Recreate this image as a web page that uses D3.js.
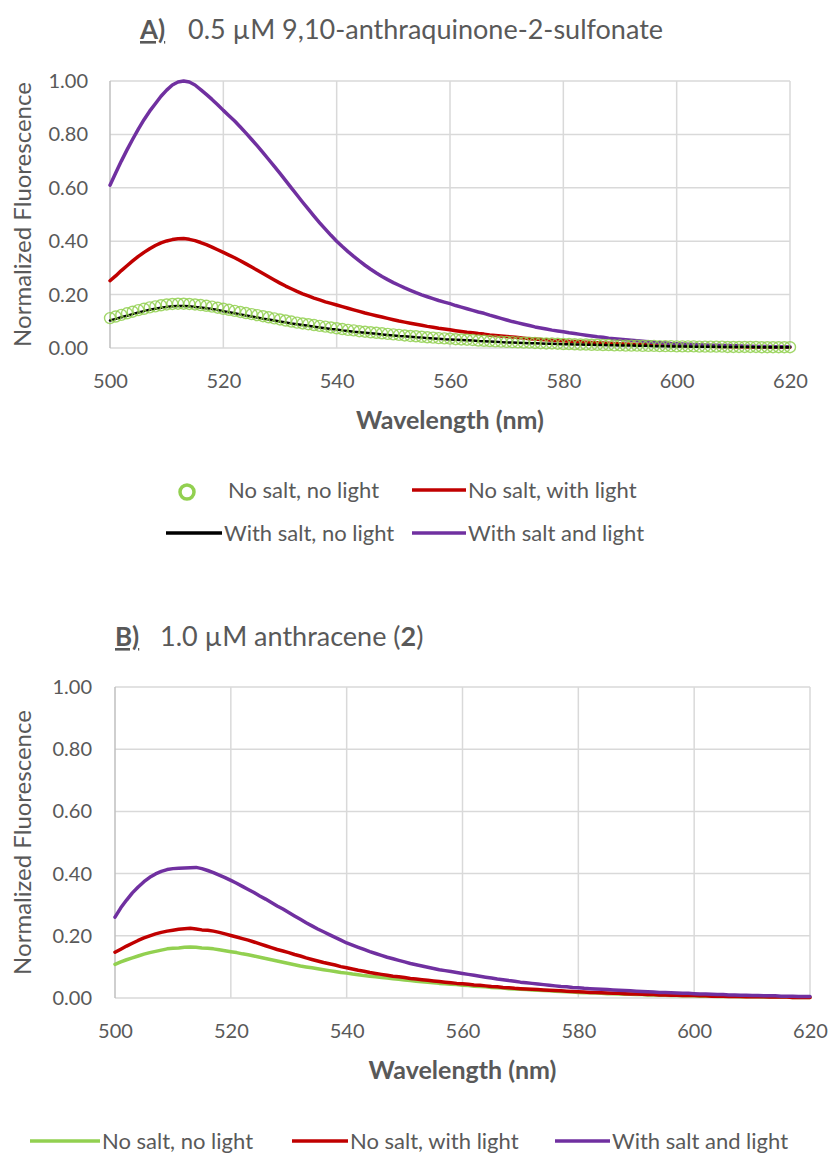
<!DOCTYPE html>
<html>
<head>
<meta charset="utf-8">
<script src="https://cdn.jsdelivr.net/npm/d3@7"></script>
<style>
  html, body { margin: 0; padding: 0; background: #fff; }
  svg { display: block; }
  text { font-family: Lato, "Open Sans", "Noto Sans", sans-serif; fill: #595959; }
</style>
</head>
<body>
<svg id="chart" width="831" height="1154"></svg>
<script>
// Emission wavelengths (nm), one reading per nanometre
const wavelengths = d3.range(500, 621);
const xTicks = [500, 520, 540, 560, 580, 600, 620];
const yTicks = [0, 0.2, 0.4, 0.6, 0.8, 1.0];

// Panel A: 0.5 µM 9,10-anthraquinone-2-sulfonate
const aNoSaltNoLight = [
  0.112,0.118,0.124,0.130,0.136,0.142,0.147,0.152,0.156,0.160,
  0.163,0.165,0.166,0.166,0.165,0.163,0.161,0.158,0.155,0.151,
  0.147,0.143,0.139,0.135,0.131,0.127,0.123,0.119,0.115,0.111,
  0.107,0.103,0.099,0.095,0.092,0.089,0.086,0.083,0.080,0.077,
  0.074,0.071,0.068,0.066,0.063,0.061,0.059,0.057,0.055,0.053,
  0.051,0.049,0.047,0.045,0.044,0.042,0.040,0.039,0.037,0.036,
  0.035,0.033,0.032,0.031,0.030,0.028,0.027,0.026,0.025,0.024,
  0.023,0.022,0.021,0.020,0.020,0.019,0.018,0.017,0.017,0.016,
  0.015,0.015,0.014,0.013,0.013,0.012,0.012,0.011,0.011,0.010,
  0.010,0.009,0.009,0.009,0.008,0.008,0.008,0.007,0.007,0.007,
  0.006,0.006,0.006,0.006,0.005,0.005,0.005,0.005,0.005,0.004,
  0.004,0.004,0.004,0.004,0.004,0.003,0.003,0.003,0.003,0.003,
  0.003
];
const aNoSaltWithLight = [
  0.252,0.270,0.290,0.308,0.326,0.343,0.358,0.372,0.384,0.394,
  0.401,0.406,0.409,0.410,0.407,0.402,0.395,0.387,0.378,0.368,
  0.358,0.348,0.338,0.327,0.315,0.303,0.291,0.279,0.267,0.255,
  0.243,0.232,0.222,0.212,0.203,0.195,0.187,0.180,0.173,0.167,
  0.161,0.155,0.149,0.143,0.137,0.131,0.126,0.121,0.116,0.111,
  0.106,0.101,0.097,0.093,0.089,0.085,0.081,0.078,0.074,0.071,
  0.068,0.065,0.062,0.059,0.057,0.054,0.052,0.049,0.047,0.045,
  0.043,0.041,0.039,0.037,0.035,0.034,0.032,0.031,0.029,0.028,
  0.027,0.025,0.024,0.023,0.022,0.021,0.020,0.019,0.018,0.017,
  0.016,0.015,0.014,0.013,0.013,0.012,0.011,0.011,0.010,0.010,
  0.009,0.009,0.008,0.008,0.007,0.007,0.007,0.006,0.006,0.006,
  0.005,0.005,0.005,0.004,0.004,0.004,0.004,0.003,0.003,0.003,
  0.003
];
const aWithSaltNoLight = [
  0.103,0.109,0.115,0.121,0.127,0.133,0.138,0.143,0.147,0.151,
  0.154,0.156,0.157,0.157,0.156,0.154,0.152,0.149,0.146,0.142,
  0.138,0.134,0.130,0.126,0.122,0.118,0.114,0.110,0.107,0.103,
  0.099,0.096,0.092,0.089,0.086,0.083,0.080,0.077,0.074,0.071,
  0.069,0.066,0.064,0.061,0.059,0.057,0.055,0.053,0.051,0.049,
  0.047,0.045,0.044,0.042,0.040,0.039,0.037,0.036,0.035,0.033,
  0.032,0.031,0.030,0.029,0.028,0.026,0.025,0.024,0.023,0.022,
  0.021,0.021,0.020,0.019,0.018,0.018,0.017,0.016,0.016,0.015,
  0.014,0.014,0.013,0.013,0.012,0.012,0.011,0.011,0.010,0.010,
  0.009,0.009,0.009,0.008,0.008,0.008,0.007,0.007,0.007,0.006,
  0.006,0.006,0.006,0.005,0.005,0.005,0.005,0.005,0.004,0.004,
  0.004,0.004,0.004,0.004,0.003,0.003,0.003,0.003,0.003,0.003,
  0.003
];
const aWithSaltAndLight = [
  0.610,0.655,0.700,0.742,0.782,0.820,0.855,0.887,0.915,0.943,
  0.966,0.985,0.996,1.000,0.996,0.985,0.968,0.950,0.931,0.911,
  0.890,0.870,0.850,0.828,0.805,0.781,0.757,0.732,0.706,0.680,
  0.654,0.627,0.600,0.573,0.546,0.520,0.494,0.469,0.445,0.422,
  0.400,0.380,0.361,0.343,0.326,0.310,0.295,0.281,0.268,0.256,
  0.245,0.235,0.225,0.216,0.207,0.199,0.192,0.185,0.178,0.172,
  0.166,0.159,0.153,0.147,0.141,0.135,0.130,0.123,0.117,0.111,
  0.105,0.099,0.094,0.089,0.084,0.079,0.075,0.071,0.067,0.064,
  0.061,0.057,0.054,0.051,0.048,0.045,0.042,0.040,0.037,0.035,
  0.033,0.031,0.029,0.027,0.025,0.023,0.021,0.020,0.019,0.017,
  0.016,0.015,0.014,0.013,0.012,0.011,0.010,0.010,0.009,0.009,
  0.008,0.008,0.007,0.007,0.006,0.006,0.006,0.005,0.005,0.005,
  0.005
];

// Panel B: 1.0 µM anthracene (2)
const bNoSaltNoLight = [
  0.108,0.116,0.123,0.129,0.135,0.141,0.146,0.150,0.154,0.158,
  0.160,0.161,0.163,0.164,0.163,0.161,0.160,0.158,0.155,0.152,
  0.149,0.146,0.142,0.139,0.135,0.131,0.127,0.123,0.119,0.115,
  0.111,0.107,0.103,0.100,0.097,0.094,0.091,0.088,0.085,0.082,
  0.080,0.077,0.075,0.072,0.070,0.068,0.066,0.064,0.062,0.060,
  0.058,0.056,0.054,0.052,0.051,0.049,0.047,0.046,0.044,0.043,
  0.041,0.040,0.038,0.037,0.036,0.034,0.033,0.032,0.030,0.029,
  0.028,0.027,0.026,0.025,0.024,0.023,0.022,0.021,0.020,0.019,
  0.018,0.017,0.017,0.016,0.015,0.014,0.014,0.013,0.012,0.012,
  0.011,0.011,0.010,0.010,0.009,0.009,0.008,0.008,0.007,0.007,
  0.007,0.006,0.006,0.006,0.005,0.005,0.005,0.005,0.004,0.004,
  0.004,0.004,0.003,0.003,0.003,0.003,0.003,0.002,0.002,0.002,
  0.002
];
const bNoSaltWithLight = [
  0.147,0.157,0.167,0.176,0.185,0.193,0.200,0.206,0.211,0.215,
  0.218,0.221,0.223,0.224,0.222,0.219,0.218,0.215,0.211,0.206,
  0.201,0.196,0.191,0.186,0.180,0.174,0.168,0.162,0.156,0.151,
  0.146,0.140,0.135,0.129,0.124,0.119,0.114,0.110,0.106,0.101,
  0.097,0.093,0.089,0.086,0.082,0.079,0.076,0.073,0.070,0.068,
  0.066,0.063,0.061,0.059,0.057,0.055,0.053,0.051,0.049,0.047,
  0.046,0.044,0.042,0.041,0.039,0.037,0.036,0.034,0.033,0.031,
  0.030,0.029,0.028,0.027,0.026,0.025,0.024,0.023,0.022,0.021,
  0.020,0.019,0.018,0.018,0.017,0.016,0.015,0.015,0.014,0.013,
  0.013,0.012,0.011,0.011,0.010,0.010,0.009,0.009,0.008,0.008,
  0.008,0.007,0.007,0.006,0.006,0.006,0.005,0.005,0.005,0.004,
  0.004,0.004,0.004,0.003,0.003,0.003,0.003,0.002,0.002,0.002,
  0.002
];
const bWithSaltAndLight = [
  0.260,0.290,0.315,0.338,0.357,0.374,0.388,0.399,0.407,0.413,
  0.416,0.417,0.418,0.419,0.420,0.416,0.410,0.403,0.395,0.387,
  0.378,0.369,0.359,0.349,0.339,0.328,0.318,0.307,0.296,0.286,
  0.275,0.264,0.253,0.242,0.232,0.222,0.213,0.204,0.195,0.186,
  0.177,0.170,0.163,0.156,0.149,0.143,0.137,0.131,0.126,0.121,
  0.116,0.111,0.107,0.103,0.099,0.095,0.091,0.088,0.085,0.082,
  0.079,0.076,0.073,0.070,0.067,0.064,0.061,0.059,0.056,0.054,
  0.051,0.049,0.047,0.045,0.043,0.041,0.039,0.037,0.036,0.034,
  0.033,0.031,0.030,0.029,0.028,0.027,0.026,0.025,0.024,0.023,
  0.022,0.021,0.020,0.019,0.018,0.018,0.017,0.016,0.015,0.015,
  0.014,0.013,0.013,0.012,0.011,0.011,0.010,0.010,0.009,0.009,
  0.008,0.008,0.007,0.007,0.007,0.006,0.006,0.006,0.005,0.005,
  0.005
];

const GREEN = "#92d050", RED = "#c00000", BLACK = "#000000", PURPLE = "#7030a0";
const TEXT = "#595959", GRID = "#d9d9d9", AXIS = "#bfbfbf";

const svg = d3.select("#chart");

function drawPanel(cfg) {
  const x = d3.scaleLinear().domain([500, 620]).range([cfg.left, cfg.right]);
  const y = d3.scaleLinear().domain([0, 1]).range([cfg.bottom, cfg.top]);
  const g = svg.append("g");

  // Horizontal gridlines
  g.append("g").selectAll("line").data(yTicks).join("line")
    .attr("x1", cfg.left).attr("x2", cfg.right)
    .attr("y1", d => y(d)).attr("y2", d => y(d))
    .attr("stroke", GRID).attr("stroke-width", 1.5);
  // Vertical gridlines
  g.append("g").selectAll("line").data(xTicks.slice(1)).join("line")
    .attr("x1", d => x(d)).attr("x2", d => x(d))
    .attr("y1", cfg.top).attr("y2", cfg.bottom)
    .attr("stroke", GRID).attr("stroke-width", 1.5);
  // Value axis line
  g.append("line")
    .attr("x1", cfg.left).attr("x2", cfg.left)
    .attr("y1", cfg.top).attr("y2", cfg.bottom)
    .attr("stroke", AXIS).attr("stroke-width", 1.5);

  // Tick labels through d3 axes (domain and tick marks hidden)
  const yAxis = g.append("g").attr("transform", `translate(${cfg.left},0)`)
    .call(d3.axisLeft(y).tickValues(yTicks).tickFormat(d3.format(".2f")).tickSize(0).tickPadding(cfg.yPad));
  const xAxis = g.append("g").attr("transform", `translate(0,${cfg.bottom})`)
    .call(d3.axisBottom(x).tickValues(xTicks).tickFormat(d3.format("d")).tickSize(0).tickPadding(cfg.xPad));
  [yAxis, xAxis].forEach(a => {
    a.select(".domain").remove();
    a.selectAll("text").attr("fill", TEXT).style("font-size", "20px")
      .style("font-family", "Lato, 'Open Sans', sans-serif");
  });

  const line = vals => d3.line()
    .x((d, i) => x(wavelengths[i]))
    .y(d => y(d))(vals);

  cfg.series.forEach(s => {
    if (s.type === "line") {
      g.append("path").attr("d", line(s.values))
        .attr("fill", "none").attr("stroke", s.color)
        .attr("stroke-width", s.width || 3.5)
        .attr("stroke-linejoin", "round").attr("stroke-linecap", "round");
    } else {
      g.append("g").selectAll("circle").data(s.values).join("circle")
        .attr("cx", (d, i) => x(wavelengths[i])).attr("cy", d => y(d))
        .attr("r", 5.5).attr("fill", "none")
        .attr("stroke", s.color).attr("stroke-width", 1.4).attr("stroke-opacity", 0.85);
    }
  });

  // Axis titles
  g.append("text")
    .attr("transform", `translate(${cfg.yTitleX},${(cfg.top + cfg.bottom) / 2}) rotate(-90)`)
    .attr("text-anchor", "middle").style("font-size", "24px")
    .text("Normalized Fluorescence");
  g.append("text")
    .attr("x", (cfg.left + cfg.right) / 2).attr("y", cfg.xTitleY)
    .attr("text-anchor", "middle").style("font-size", "25px").style("font-weight", "bold")
    .text("Wavelength (nm)");
}

// Panel A
drawPanel({
  left: 110, right: 790, top: 81, bottom: 348,
  yPad: 22, xPad: 26, yTitleX: 31, xTitleY: 429,
  series: [
    { type: "line", color: RED, values: aNoSaltWithLight },
    { type: "line", color: PURPLE, values: aWithSaltAndLight },
    { type: "line", color: BLACK, values: aWithSaltNoLight, width: 2.5 },
    { type: "circle", color: GREEN, values: aNoSaltNoLight }
  ]
});

// Panel B
drawPanel({
  left: 115, right: 810, top: 687, bottom: 998,
  yPad: 23, xPad: 26, yTitleX: 31, xTitleY: 1079,
  series: [
    { type: "line", color: GREEN, values: bNoSaltNoLight },
    { type: "line", color: RED, values: bNoSaltWithLight },
    { type: "line", color: PURPLE, values: bWithSaltAndLight }
  ]
});

// Panel titles
const titleA = svg.append("g");
titleA.append("text").attr("x", 140).attr("y", 39)
  .style("font-size", "26px").style("font-weight", "bold")
  .style("text-decoration", "underline").text("A)");
titleA.append("text").attr("x", 188).attr("y", 39)
  .style("font-size", "27px").text("0.5 µM 9,10-anthraquinone-2-sulfonate");

const titleB = svg.append("g");
titleB.append("text").attr("x", 115).attr("y", 646)
  .style("font-size", "26px").style("font-weight", "bold")
  .style("text-decoration", "underline").text("B)");
const tb = titleB.append("text").attr("x", 160).attr("y", 646).style("font-size", "27px");
tb.append("tspan").text("1.0 µM anthracene (");
tb.append("tspan").style("font-weight", "bold").text("2");
tb.append("tspan").text(")");

// Legends
function legendLine(x1, x2, yy, color, label) {
  svg.append("line").attr("x1", x1).attr("x2", x2).attr("y1", yy).attr("y2", yy)
    .attr("stroke", color).attr("stroke-width", 3.5);
  svg.append("text").attr("x", x2 + 2).attr("y", yy + 8).style("font-size", "22px").text(label);
}
// Panel A legend
svg.append("circle").attr("cx", 187).attr("cy", 492).attr("r", 7)
  .attr("fill", "none").attr("stroke", GREEN).attr("stroke-width", 3.5);
svg.append("text").attr("x", 228).attr("y", 498).style("font-size", "22px").text("No salt, no light");
legendLine(412, 466, 490, RED, "No salt, with light");
legendLine(166, 222, 533, BLACK, "With salt, no light");
legendLine(412, 466, 533, PURPLE, "With salt and light");
// Panel B legend
legendLine(30, 100, 1141, GREEN, "No salt, no light");
legendLine(292, 348, 1141, RED, "No salt, with light");
legendLine(555, 610, 1141, PURPLE, "With salt and light");
</script>
</body>
</html>
